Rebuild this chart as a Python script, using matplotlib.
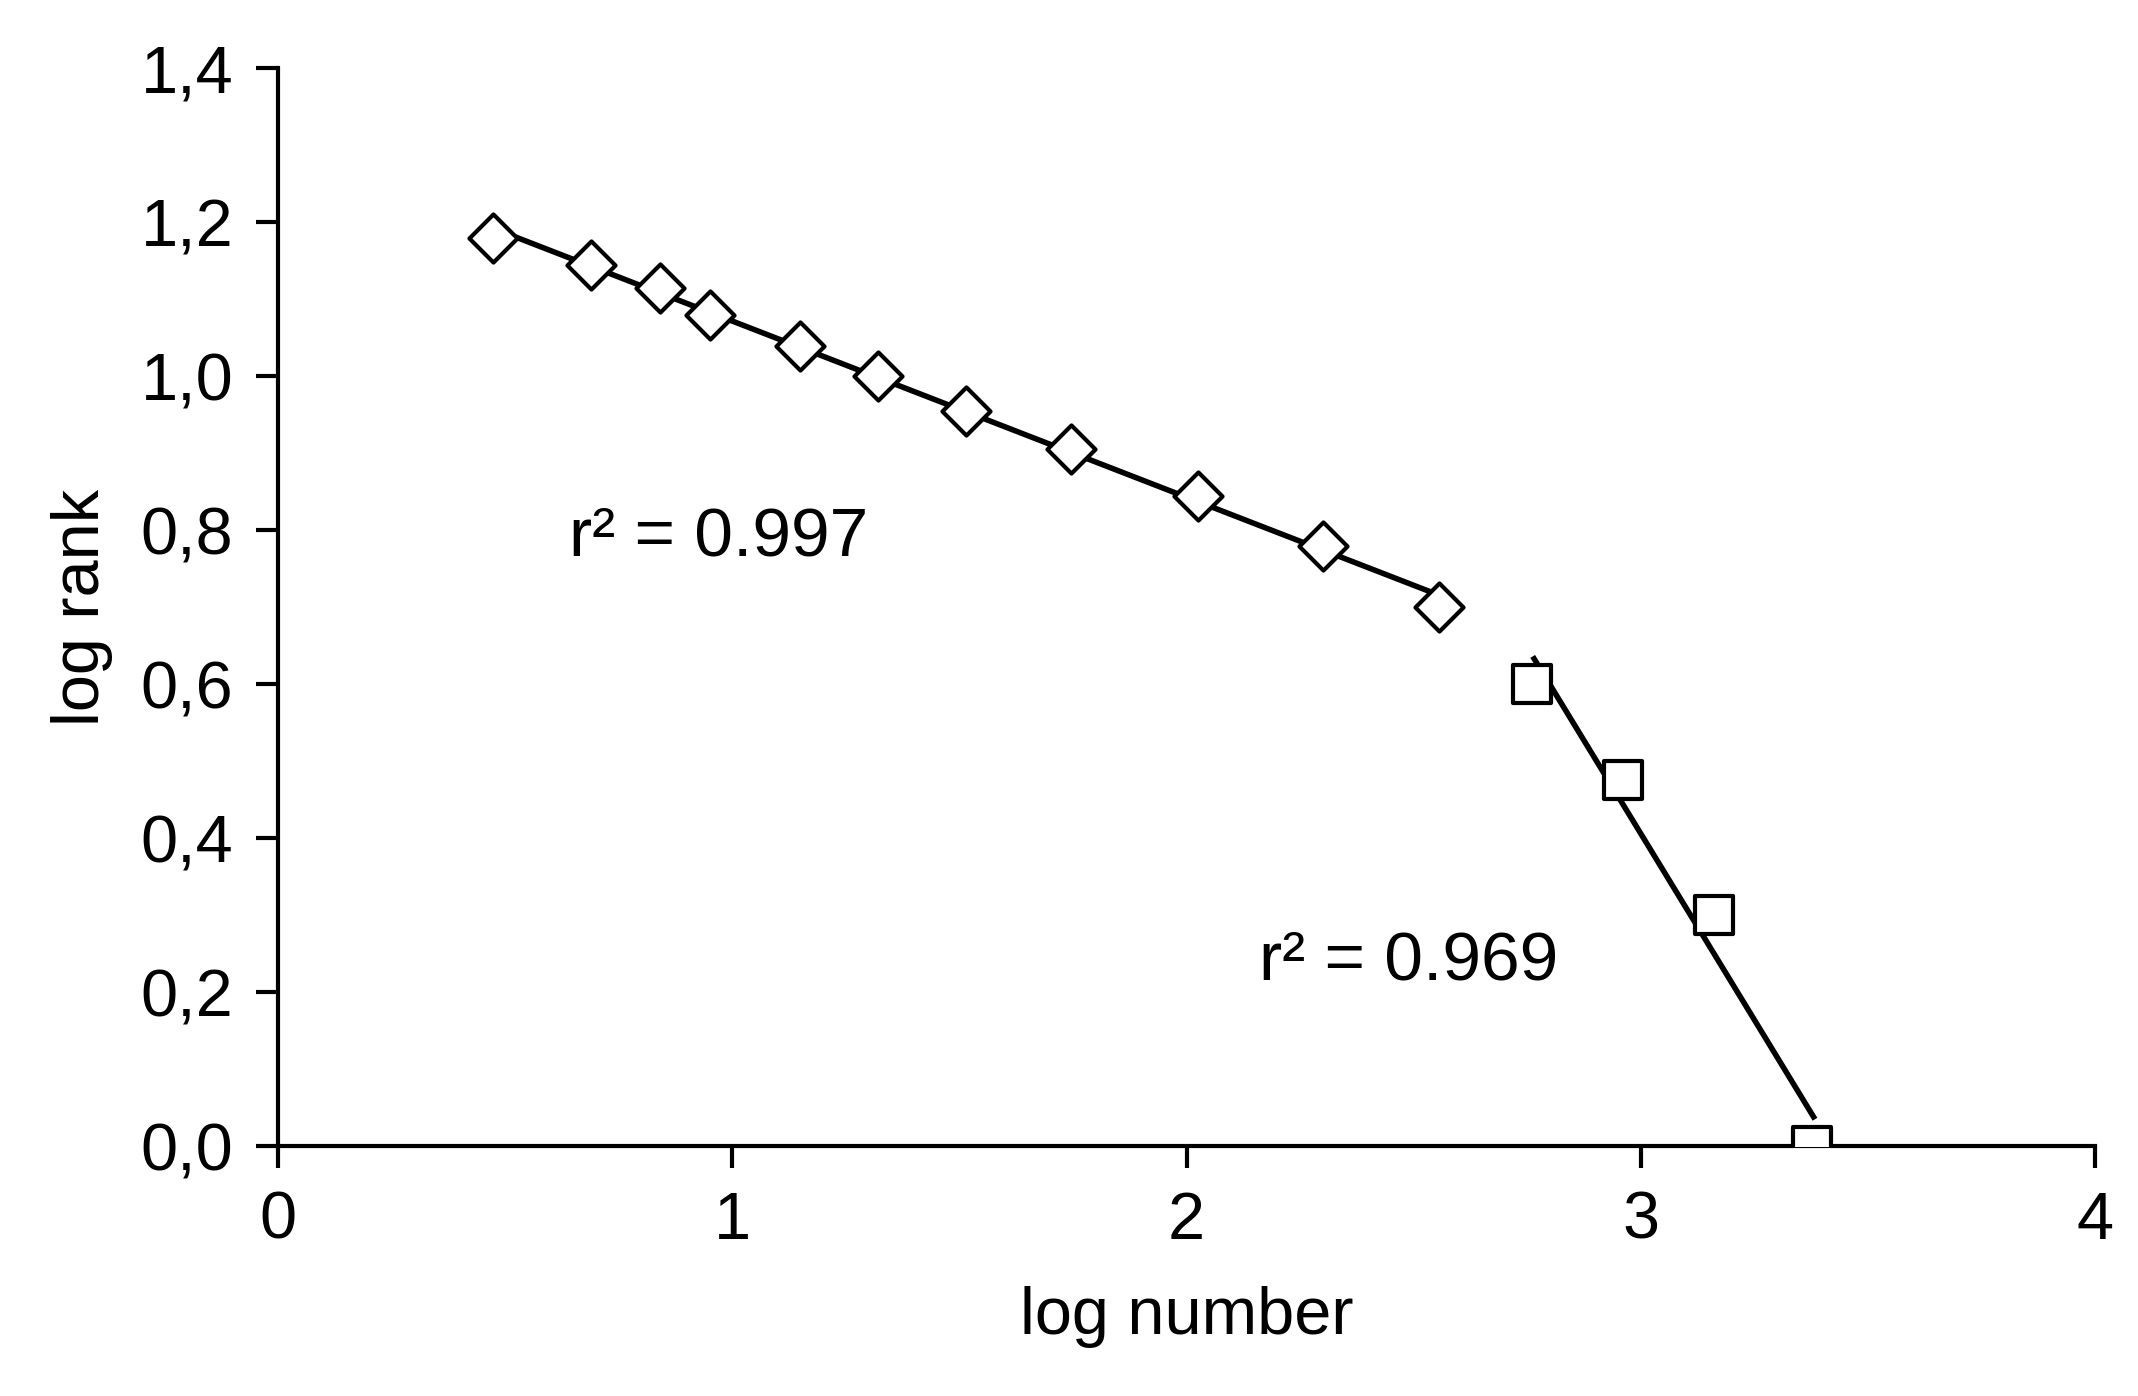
import numpy as np
import matplotlib.pyplot as plt

plt.rcParams['font.family'] = ['Liberation Sans', 'DejaVu Sans']

# upper segment (diamonds)
x_upper = [0.474, 0.69, 0.84, 0.95, 1.15, 1.32, 1.515, 1.745, 2.025, 2.30, 2.556]
y_upper = [1.18, 1.145, 1.115, 1.08, 1.04, 1.0, 0.955, 0.905, 0.845, 0.78, 0.70]
# lower segment (squares)
x_lower = [2.76, 2.96, 3.16, 3.376]
y_lower = [0.60, 0.475, 0.30, 0.0]

fig = plt.figure(figsize=(10.69, 6.98), dpi=200)
ax = fig.add_axes([0.130, 0.179, 0.850, 0.772])

ax.scatter(x_upper, y_upper, marker='D', s=150, facecolors='white', edgecolors='black', linewidths=1.5, zorder=3)
ax.scatter(x_lower, y_lower, marker='s', s=190, facecolors='white', edgecolors='black', linewidths=1.5, zorder=3)

p1 = np.polyfit(x_upper, y_upper, 1)
xs1 = np.array([0.5, 2.57])
ax.plot(xs1, np.polyval(p1, xs1), color='black', lw=2, zorder=2)
p2 = np.polyfit(x_lower, y_lower, 1)
xs2 = np.array([2.765, 3.38])
ax.plot(xs2, np.polyval(p2, xs2), color='black', lw=2, zorder=2)

ax.text(0.64, 0.79, 'r² = 0.997', fontsize=25, va='center')
ax.text(2.16, 0.24, 'r² = 0.969', fontsize=25, va='center')

ax.set_xlim(0, 4)
ax.set_ylim(0, 1.4)
ax.set_xticks([0, 1, 2, 3, 4])
ax.set_yticks(np.arange(0, 1.41, 0.2))
ax.set_yticklabels([f'{v:.1f}'.replace('.', ',') for v in np.arange(0, 1.41, 0.2)])
ax.tick_params(labelsize=24, length=8, width=1.5, direction='out', pad=8)
for s in ['top', 'right']:
    ax.spines[s].set_visible(False)
for s in ['left', 'bottom']:
    ax.spines[s].set_linewidth(1.5)
ax.set_xlabel('log number', fontsize=24, labelpad=12)
ax.set_ylabel('log rank', fontsize=24, labelpad=10)

fig.savefig('out.png', dpi=200)
